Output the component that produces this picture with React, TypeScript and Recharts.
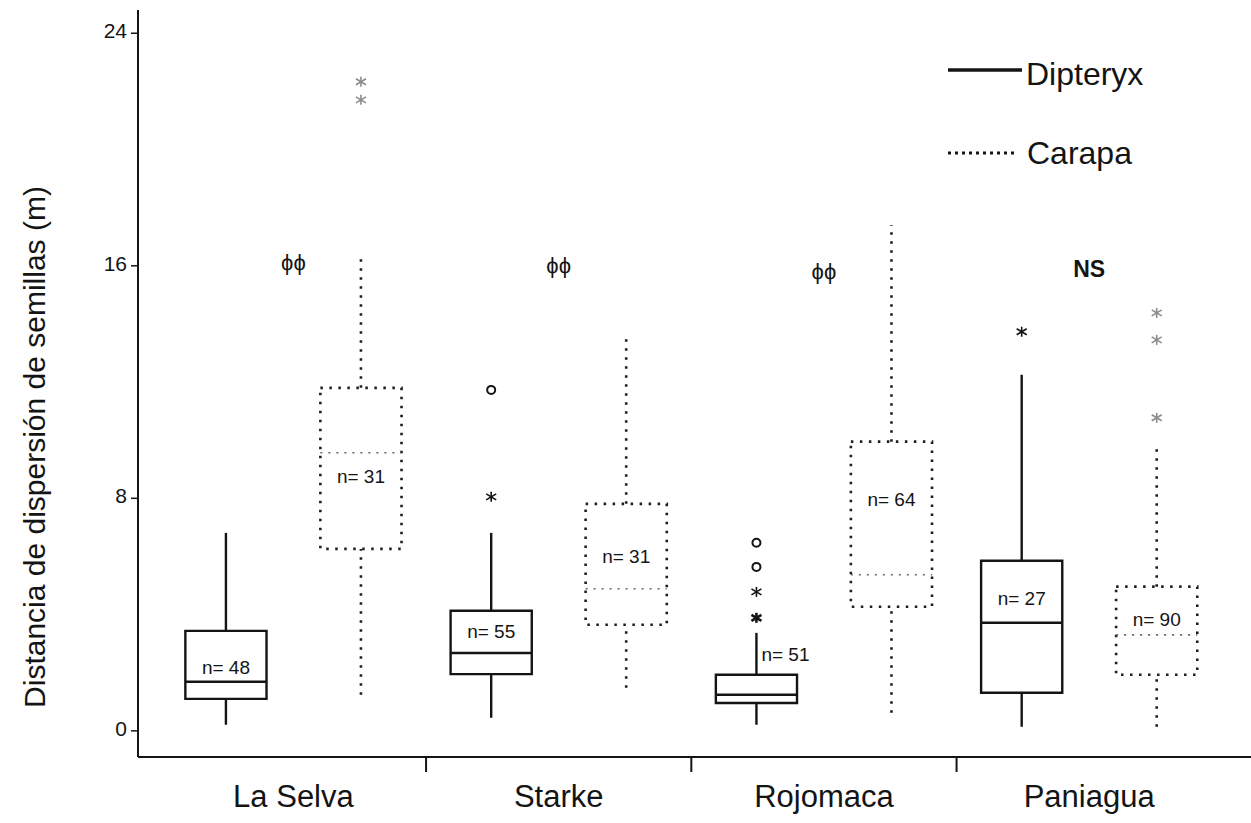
import { ComposedChart, XAxis, YAxis, Scatter, ReferenceArea, ReferenceLine, Legend } from 'recharts';

const sites = ['La Selva', 'Starke', 'Rojomaca', 'Paniagua'];

// Dipteryx (solid boxes)
const dipMin = [0.21, 0.45, 0.21, 0.14];
const dipQ1 = [1.1, 1.95, 0.96, 1.31];
const dipMed = [1.69, 2.68, 1.24, 3.72];
const dipQ3 = [3.44, 4.13, 1.93, 5.85];
const dipMax = [6.81, 6.81, 3.37, 12.25];
const dipN = [48, 55, 51, 27];
const dipOutVal = [[], [11.73, 8.05], [6.47, 5.64, 4.78, 3.89], [13.73]];
const dipOutKind = [[], ['o', '*'], ['o', 'o', '*', '#'], ['*']];

// Carapa (dotted boxes)
const carMin = [1.24, 1.48, 0.62, 0.14];
const carQ1 = [6.26, 3.65, 4.27, 1.93];
const carMed = [9.57, 4.89, 5.37, 3.3];
const carQ3 = [11.8, 7.81, 9.95, 4.96];
const carMax = [16.45, 13.7, 17.4, 9.74];
const carN = [31, 31, 64, 90];
const carOutVal = [[22.33, 21.71], [], [], [14.38, 13.45, 10.77]];

// height (m) at which the "n=" text is written
const dipNAt = [2.17, 3.41, 2.61, 4.57];
const carNAt = [8.74, 5.99, 7.95, 3.82];

const sigText = ['ϕϕ', 'ϕϕ', 'ϕϕ', 'NS'];
const sigAt = [16.1, 16.0, 15.8, 15.9];

const yTicks = [0, 8, 16, 24];

const FONT = '"Liberation Sans", Arial, Helvetica, sans-serif';
const INK = '#141414';
const OFF = 0.2545; // offset of each box from the category centre
const HALF = 0.153; // half box width

const boxes = sites.flatMap((_, i) => [
    { key: 'd' + i, dotted: false, x: i + 0.5 - OFF, min: dipMin[i], q1: dipQ1[i], med: dipMed[i], q3: dipQ3[i], max: dipMax[i] },
    { key: 'c' + i, dotted: true, x: i + 0.5 + OFF, min: carMin[i], q1: carQ1[i], med: carMed[i], q3: carQ3[i], max: carMax[i] },
]);

const outliers = sites.flatMap((_, i) => [
    ...dipOutVal[i].map((v, j) => ({ x: i + 0.5 - OFF, y: v, kind: dipOutKind[i][j], light: false })),
    ...carOutVal[i].map((v) => ({ x: i + 0.5 + OFF, y: v, kind: '*', light: true })),
]);

const nLabels = sites.flatMap((_, i) => [
    { x: i + 0.5 - OFF, y: dipNAt[i], text: 'n= ' + dipN[i], outside: dipNAt[i] > dipQ3[i] },
    { x: i + 0.5 + OFF, y: carNAt[i], text: 'n= ' + carN[i], outside: carNAt[i] > carQ3[i] },
]);

const sigMarks = sites.map((_, i) => ({ x: i + 0.5, y: sigAt[i], text: sigText[i] }));

const xTicks = [
    ...sites.map((_, i) => i + 0.5),
    ...sites.slice(1).map((_, i) => i + 1),
].sort((a, b) => a - b);

const XTick = (props: any) => {
    const { x, y, payload } = props;
    const v = payload.value;
    if (Number.isInteger(v)) {
        return <line x1={x} y1={y} x2={x} y2={y + 15} stroke={INK} strokeWidth={2} />;
    }
    return (
        <text x={x} y={y + 50} textAnchor="middle" fontSize={31} fontFamily={FONT} fill={INK}>
            {sites[Math.floor(v)]}
        </text>
    );
};

const YTick = (props: any) => {
    const { x, y, payload } = props;
    return (
        <text x={x} y={y + 5} textAnchor="end" fontSize={21} fontFamily={FONT} fill={INK}>
            {payload.value}
        </text>
    );
};

const YTitle = () => (
    <text transform="rotate(-90)" x={-447} y={45} textAnchor="middle" fontSize={30} fontFamily={FONT} fill={INK}>
        Distancia de dispersión de semillas (m)
    </text>
);

const OutlierShape = (p: any) => {
    const { cx, cy, payload } = p;
    if (payload.kind === 'o') {
        return <circle cx={cx} cy={cy} r={4} fill="none" stroke={INK} strokeWidth={2} />;
    }
    const col = payload.light ? '#8c8c8c' : INK;
    const w = payload.kind === '#' ? 2.6 : 1.6;
    const s = 5;
    return (
        <g stroke={col} strokeWidth={w}>
            <line x1={cx} y1={cy - s} x2={cx} y2={cy + s} />
            <line x1={cx - s} y1={cy - s * 0.6} x2={cx + s} y2={cy + s * 0.6} />
            <line x1={cx - s} y1={cy + s * 0.6} x2={cx + s} y2={cy - s * 0.6} />
        </g>
    );
};

const NShape = (p: any) => {
    const { cx, cy, payload } = p;
    return (
        <text x={payload.outside ? cx + 5 : cx} y={cy} dominantBaseline="central"
            textAnchor={payload.outside ? 'start' : 'middle'} fontSize={19} fontFamily={FONT} fill={INK}>
            {payload.text}
        </text>
    );
};

const SigShape = (p: any) => {
    const { cx, cy, payload } = p;
    const ns = payload.text === 'NS';
    return (
        <text x={cx} y={cy} dominantBaseline="central" textAnchor="middle" fontSize={ns ? 23 : 22}
            fontWeight={ns ? 'bold' : 'normal'} fontFamily={FONT} fill={INK}>
            {payload.text}
        </text>
    );
};

const LegendBox = () => (
    <div style={{ position: 'relative', width: 0, height: 0 }}>
        <svg width={1251} height={200} style={{ position: 'absolute', left: 0, top: 0, overflow: 'visible' }}>
            <line x1={948} y1={70} x2={1022} y2={70} stroke={INK} strokeWidth={3.5} />
            <text x={1026} y={85} fontSize={32} fontFamily={FONT} fill={INK}>Dipteryx</text>
            <line x1={948} y1={153} x2={1016} y2={153} stroke={INK} strokeWidth={3} strokeDasharray="3 4" />
            <text x={1027} y={164} fontSize={32} fontFamily={FONT} fill={INK}>Carapa</text>
        </svg>
    </div>
);

export default function App() {
    const boxParts = boxes.flatMap((b) => {
        const stroke = b.dotted ? '#1e1e1e' : INK;
        const dash = b.dotted ? '2.5 6.5' : undefined;
        const w = b.dotted ? 2.6 : 2.4;
        return [
            <ReferenceLine key={b.key + 'lo'} segment={[{ x: b.x, y: b.min }, { x: b.x, y: b.q1 }]}
                stroke={stroke} strokeWidth={w} strokeDasharray={dash} />,
            <ReferenceLine key={b.key + 'hi'} segment={[{ x: b.x, y: b.q3 }, { x: b.x, y: b.max }]}
                stroke={stroke} strokeWidth={w} strokeDasharray={dash} />,
            <ReferenceArea key={b.key + 'box'} x1={b.x - HALF} x2={b.x + HALF} y1={b.q1} y2={b.q3}
                fill="none" stroke={stroke} strokeWidth={w} strokeDasharray={dash} />,
            <ReferenceLine key={b.key + 'med'} segment={[{ x: b.x - HALF, y: b.med }, { x: b.x + HALF, y: b.med }]}
                stroke={b.dotted ? '#666' : INK} strokeWidth={b.dotted ? 1.6 : 2.4}
                strokeDasharray={b.dotted ? '2 6' : undefined} />,
        ];
    });

    return (
        <div style={{ position: 'absolute', left: 0, top: 0, background: '#fff' }}>
            <ComposedChart width={1251} height={823} margin={{ top: 10, right: 0, bottom: 0, left: 0 }}
                style={{ fontFamily: FONT }}>
                <XAxis type="number" dataKey="x" domain={[-0.086, 4.11]} allowDataOverflow ticks={xTicks}
                    interval={0} height={66} tickLine={false} tickSize={0} tickMargin={0} tick={<XTick />}
                    axisLine={{ stroke: INK, strokeWidth: 2 }} />
                <YAxis type="number" dataKey="y" domain={[-0.9, 24.8]} allowDataOverflow ticks={yTicks}
                    interval={0} width={138} tickSize={7} tickMargin={4} tick={<YTick />}
                    tickLine={{ stroke: INK, strokeWidth: 1.5 }} axisLine={{ stroke: INK, strokeWidth: 2 }}
                    label={<YTitle />} />
                <Legend layout="vertical" align="center" verticalAlign="middle" content={<LegendBox />}
                    wrapperStyle={{ left: 0, top: 0, width: 0, height: 0 }} />
                {boxParts}
                <Scatter name="outliers" data={outliers} dataKey="y" shape={<OutlierShape />} isAnimationActive={false} legendType="none" />
                <Scatter name="n" data={nLabels} dataKey="y" shape={<NShape />} isAnimationActive={false} legendType="none" />
                <Scatter name="sig" data={sigMarks} dataKey="y" shape={<SigShape />} isAnimationActive={false} legendType="none" />
            </ComposedChart>
        </div>
    );
}
